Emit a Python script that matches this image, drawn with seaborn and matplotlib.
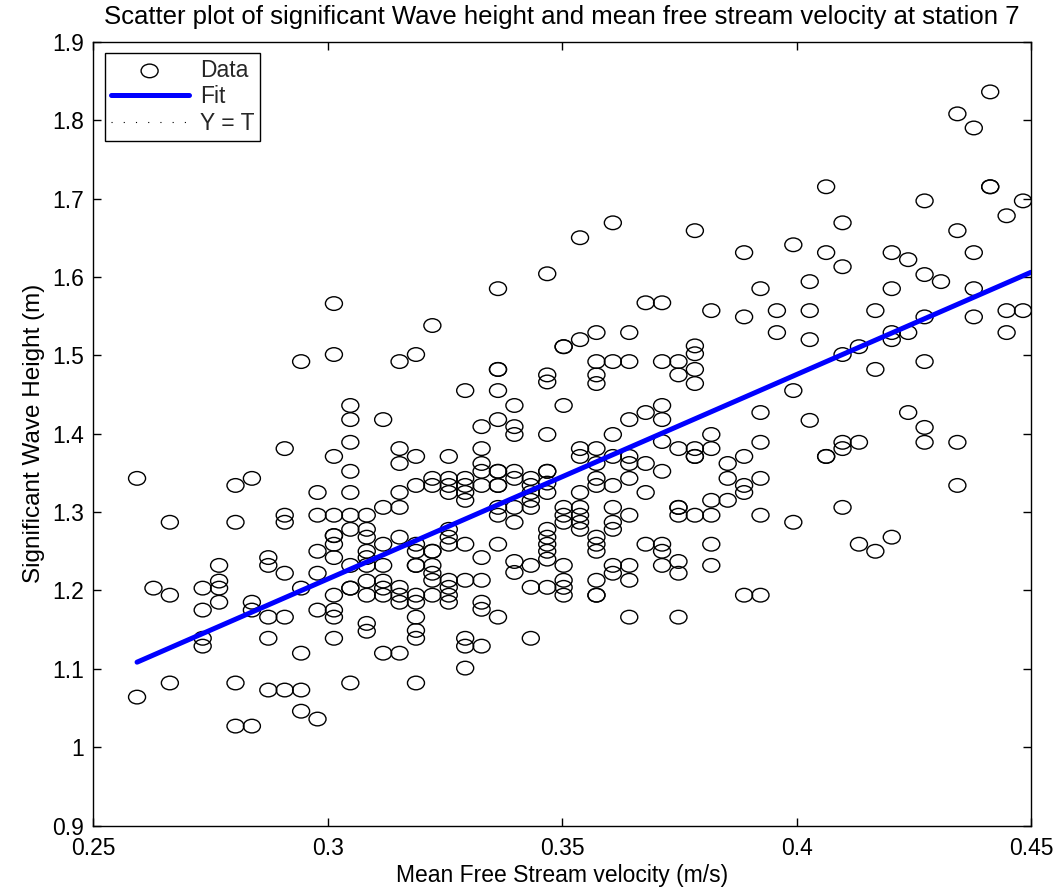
import numpy as np
import matplotlib
matplotlib.use("Agg")
import matplotlib.pyplot as plt
import seaborn as sns
from matplotlib.path import Path
from matplotlib.transforms import Affine2D
from matplotlib.ticker import FuncFormatter

# Mean free stream velocity (m/s) of each record, station 7
velocity = (
    [0.2593] * 2
    + [0.2628] * 1
    + [0.2663] * 3
    + [0.2733] * 4
    + [0.2768] * 4
    + [0.2803] * 4
    + [0.2838] * 4
    + [0.2873] * 5
    + [0.2908] * 6
    + [0.2943] * 5
    + [0.2978] * 6
    + [0.3013] * 12
    + [0.3048] * 11
    + [0.3083] * 10
    + [0.3118] * 8
    + [0.3153] * 10
    + [0.3188] * 13
    + [0.3223] * 9
    + [0.3258] * 11
    + [0.3293] * 10
    + [0.3328] * 10
    + [0.3363] * 13
    + [0.3398] * 9
    + [0.3433] * 8
    + [0.3468] * 14
    + [0.3503] * 10
    + [0.3538] * 9
    + [0.3573] * 14
    + [0.3608] * 10
    + [0.3643] * 10
    + [0.3678] * 5
    + [0.3713] * 9
    + [0.3748] * 9
    + [0.3783] * 9
    + [0.3818] * 7
    + [0.3853] * 3
    + [0.3888] * 6
    + [0.3923] * 6
    + [0.3958] * 2
    + [0.3993] * 3
    + [0.4028] * 4
    + [0.4063] * 4
    + [0.4098] * 6
    + [0.4133] * 3
    + [0.4168] * 3
    + [0.4203] * 5
    + [0.4238] * 3
    + [0.4273] * 6
    + [0.4308] * 1
    + [0.4343] * 4
    + [0.4378] * 4
    + [0.4413] * 3
    + [0.4448] * 3
    + [0.4483] * 2
)

# Significant wave height (m) of each record, same order as velocity
wave_height = [
    1.343, 1.064,
    1.203,
    1.287, 1.194, 1.082,
    1.203, 1.175, 1.139, 1.129,
    1.232, 1.212, 1.203, 1.185,
    1.334, 1.287, 1.082, 1.027,
    1.343, 1.185, 1.175, 1.027,
    1.242, 1.232, 1.166, 1.139, 1.073,
    1.381, 1.296, 1.287, 1.222, 1.166, 1.073,
    1.492, 1.203, 1.120, 1.073, 1.046,
    1.325, 1.296, 1.250, 1.222, 1.175, 1.036,
    1.566, 1.501, 1.371, 1.296, 1.270, 1.270, 1.259, 1.242, 1.194, 1.175, 1.166, 1.139,
    1.436, 1.418, 1.389, 1.352, 1.325, 1.296, 1.278, 1.232, 1.203, 1.203, 1.082,
    1.296, 1.278, 1.268, 1.250, 1.242, 1.232, 1.212, 1.194, 1.158, 1.148,
    1.418, 1.306, 1.259, 1.232, 1.212, 1.203, 1.194, 1.120,
    1.492, 1.381, 1.362, 1.325, 1.306, 1.268, 1.204, 1.194, 1.185, 1.120,
    1.501, 1.371, 1.334, 1.259, 1.250, 1.232, 1.232, 1.194, 1.185, 1.166, 1.149, 1.139, 1.082,
    1.538, 1.343, 1.334, 1.250, 1.250, 1.232, 1.222, 1.213, 1.194,
    1.371, 1.343, 1.334, 1.325, 1.278, 1.268, 1.259, 1.213, 1.204, 1.194, 1.185,
    1.455, 1.343, 1.334, 1.325, 1.315, 1.259, 1.213, 1.139, 1.129, 1.101,
    1.409, 1.381, 1.362, 1.352, 1.334, 1.242, 1.213, 1.185, 1.176, 1.129,
    1.585, 1.482, 1.482, 1.455, 1.418, 1.352, 1.352, 1.334, 1.334, 1.306, 1.296, 1.259, 1.166,
    1.436, 1.409, 1.399, 1.352, 1.343, 1.306, 1.287, 1.237, 1.223,
    1.343, 1.334, 1.325, 1.315, 1.306, 1.232, 1.204, 1.139,
    1.604, 1.475, 1.466, 1.399, 1.352, 1.352, 1.337, 1.325, 1.278, 1.268, 1.259, 1.250, 1.240, 1.204,
    1.511, 1.511, 1.436, 1.306, 1.296, 1.287, 1.232, 1.213, 1.204, 1.194,
    1.650, 1.520, 1.381, 1.371, 1.325, 1.306, 1.296, 1.287, 1.278,
    1.529, 1.492, 1.475, 1.464, 1.381, 1.362, 1.343, 1.334, 1.268, 1.259, 1.250, 1.213, 1.194, 1.194,
    1.669, 1.492, 1.399, 1.371, 1.334, 1.306, 1.287, 1.278, 1.232, 1.222,
    1.529, 1.492, 1.418, 1.371, 1.362, 1.343, 1.296, 1.232, 1.213, 1.166,
    1.567, 1.427, 1.362, 1.325, 1.259,
    1.567, 1.492, 1.436, 1.418, 1.390, 1.352, 1.259, 1.250, 1.232,
    1.492, 1.475, 1.381, 1.306, 1.306, 1.296, 1.237, 1.222, 1.166,
    1.659, 1.512, 1.502, 1.482, 1.464, 1.381, 1.371, 1.371, 1.296,
    1.557, 1.399, 1.381, 1.315, 1.296, 1.259, 1.232,
    1.362, 1.343, 1.315,
    1.631, 1.549, 1.371, 1.334, 1.325, 1.194,
    1.585, 1.427, 1.389, 1.343, 1.296, 1.194,
    1.557, 1.529,
    1.641, 1.455, 1.287,
    1.594, 1.557, 1.520, 1.417,
    1.715, 1.631, 1.371, 1.371,
    1.669, 1.613, 1.501, 1.389, 1.381, 1.306,
    1.511, 1.389, 1.259,
    1.557, 1.482, 1.250,
    1.631, 1.585, 1.529, 1.520, 1.268,
    1.622, 1.529, 1.427,
    1.697, 1.603, 1.549, 1.492, 1.408, 1.389,
    1.594,
    1.808, 1.659, 1.389, 1.334,
    1.790, 1.631, 1.585, 1.549,
    1.836, 1.715, 1.715,
    1.678, 1.557, 1.529,
    1.697, 1.557,
]

# Least-squares fit line: height = slope * velocity + intercept
fit_slope = 2.608
fit_intercept = 0.4323

x_limits = [0.25, 0.45]
y_limits = [0.9, 1.9]
x_ticks = [0.25, 0.3, 0.35, 0.4, 0.45]
y_ticks = [0.9, 1.0, 1.1, 1.2, 1.3, 1.4, 1.5, 1.6, 1.7, 1.8, 1.9]

assert len(velocity) == len(wave_height)

sns.set_theme(style="white")
plt.rcParams["font.family"] = ["Liberation Sans", "DejaVu Sans"]
plt.rcParams["axes.edgecolor"] = "black"
plt.rcParams["axes.linewidth"] = 1.0

fig, ax = plt.subplots(figsize=(10.62, 8.88), dpi=100)
fig.subplots_adjust(left=0.0880, right=0.9708, bottom=0.0702, top=0.9530)

# open, slightly flattened circle marker
ellipse = Path.unit_circle().transformed(Affine2D().scale(1.0, 0.8))

sns.scatterplot(
    x=velocity, y=wave_height, ax=ax,
    marker=ellipse, s=150, facecolor="none", edgecolor="black",
    linewidth=1.0, label="Data", zorder=2,
)

fit_x = np.array([min(velocity), x_limits[1]])
fit_y = fit_slope * fit_x + fit_intercept
sns.lineplot(x=fit_x, y=fit_y, ax=ax, color=(0, 0, 1), linewidth=3.6,
             label="Fit", zorder=3)

ident_x = np.array(x_limits)
sns.lineplot(x=ident_x, y=ident_x, ax=ax, color="black", linewidth=0.8,
             linestyle=(0, (1, 10)), label="Y = T", zorder=3)

ax.set_xlim(*x_limits)
ax.set_ylim(*y_limits)
ax.set_xticks(x_ticks)
ax.set_yticks(y_ticks)
fmt = FuncFormatter(lambda v, _: f"{v:g}")
ax.xaxis.set_major_formatter(fmt)
ax.yaxis.set_major_formatter(fmt)

ax.tick_params(axis="both", which="major", direction="in", length=6,
               width=1.0, color="black", labelsize=16.5, labelcolor="black",
               top=True, right=True, bottom=True, left=True)
ax.tick_params(axis="x", pad=8)
ax.tick_params(axis="y", pad=7)

for side in ["top", "bottom", "left", "right"]:
    ax.spines[side].set_visible(True)
    ax.spines[side].set_color("black")
    ax.spines[side].set_linewidth(1.0)

ax.set_xlabel("Mean Free Stream velocity (m/s)", fontsize=16.5, color="black",
              labelpad=3)
ax.set_ylabel("Significant Wave Height (m)", fontsize=17.5, color="black",
              labelpad=5)
ax.set_title("Scatter plot of significant Wave height and mean free stream "
             "velocity at station 7", fontsize=18.5, color="black", pad=13)

handles, labels = ax.get_legend_handles_labels()
leg = ax.legend(handles, labels, loc="upper left", fontsize=16.5,
                frameon=True, fancybox=False, framealpha=1,
                edgecolor="black", borderaxespad=0.5, borderpad=0.25,
                labelspacing=0.15, handlelength=3.4, handletextpad=0.5,
                scatterpoints=1)
leg.get_frame().set_linewidth(1.0)

fig.savefig("out.png", dpi=100, facecolor="white")
